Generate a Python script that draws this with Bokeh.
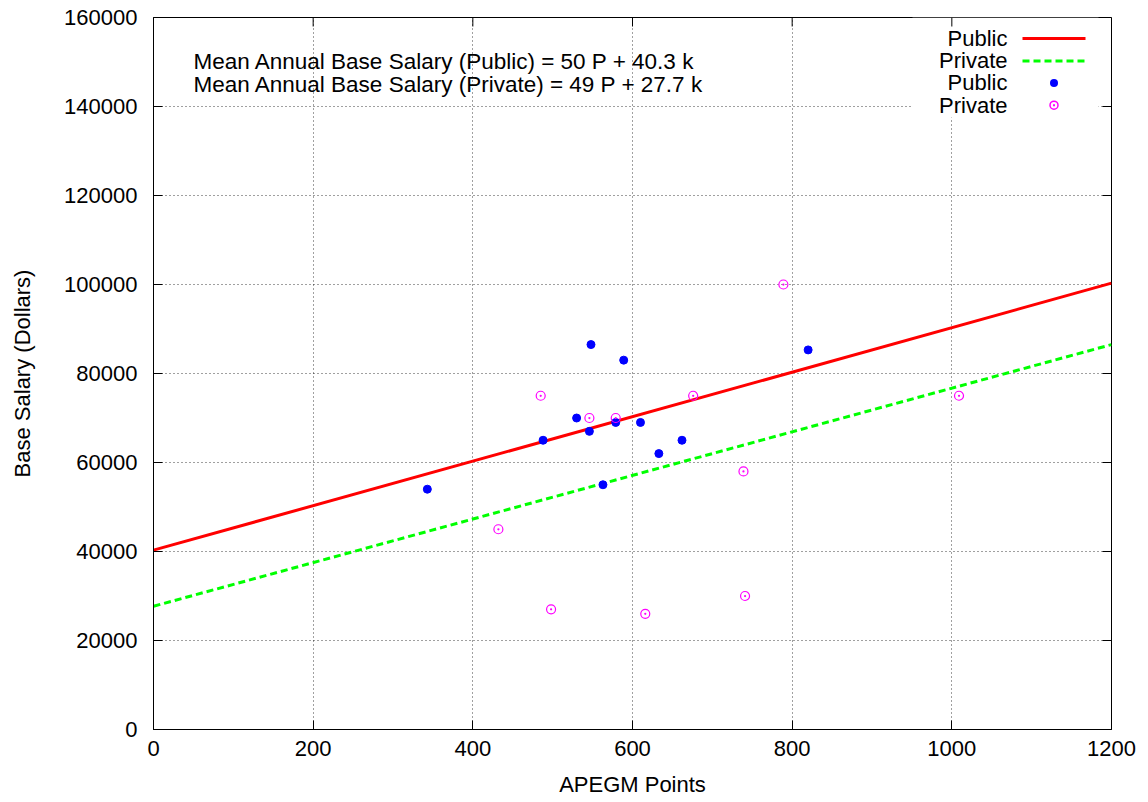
import math
from bokeh.plotting import figure
from bokeh.models import (Range1d, FixedTicker, BasicTickFormatter,
                          Label, BoxAnnotation, Arrow)
from bokeh.embed import file_html
from bokeh.resources import INLINE

# ---- data ----
pub_x = [343, 488, 530, 546, 548, 563, 579, 589, 610, 633, 662, 820]
pub_y = [54000, 65000, 70000, 67000, 86500, 55000, 69000, 83000, 69000, 62000, 65000, 85300]

priv_x = [432, 485, 498, 546, 579, 616, 676, 739, 741, 789, 1009]
priv_y = [45000, 75000, 27000, 70000, 70000, 26000, 75000, 58000, 30000, 100000, 75000]

fit_names = ["Public", "Private"]
fit_slope = [50, 49]
fit_intercept = [40300, 27700]
fit_x = [0, 1200]

x_ticks = [0, 200, 400, 600, 800, 1000, 1200]
y_ticks = [0, 20000, 40000, 60000, 80000, 100000, 120000, 140000, 160000]

eq_labels = ["Mean Annual Base Salary (Public) = 50 P + 40.3 k",
             "Mean Annual Base Salary (Private) = 49 P + 27.7 k"]
legend_labels = ["Public", "Private", "Public", "Private"]

x_title = "APEGM Points"
y_title = "Base Salary (Dollars)"

FONT = "Liberation Sans"
FS = "22px"

X0, X1 = 0, 1200
Y0, Y1 = 0, 160000

p = figure(width=1148, height=802,
           x_range=Range1d(X0, X1), y_range=Range1d(Y0, Y1),
           output_backend="svg", toolbar_location=None,
           min_border_left=153, min_border_right=37,
           min_border_top=17, min_border_bottom=73,
           background_fill_color="white", border_fill_color="white")

p.outline_line_color = "black"
p.outline_line_width = 1

xt = FixedTicker(ticks=x_ticks, minor_ticks=[])
yt = FixedTicker(ticks=y_ticks, minor_ticks=[])

for ax, tk in ((p.xaxis[0], xt), (p.yaxis[0], yt)):
    ax.ticker = tk
    ax.formatter = BasicTickFormatter(use_scientific=False)
    ax.major_tick_in = 9
    ax.major_tick_out = 0
    ax.minor_tick_in = 0
    ax.minor_tick_out = 0
    ax.axis_line_color = "black"
    ax.major_tick_line_color = "black"
    ax.major_label_text_font = FONT
    ax.major_label_text_font_size = FS
    ax.major_label_text_color = "black"
    ax.axis_label_text_font = FONT
    ax.axis_label_text_font_size = FS
    ax.axis_label_text_font_style = "normal"
    ax.axis_label_text_color = "black"

p.xaxis[0].axis_label = x_title
p.yaxis[0].axis_label = y_title
p.xaxis[0].major_label_standoff = 11
p.xaxis[0].axis_label_standoff = 13
p.yaxis[0].major_label_standoff = 16
p.yaxis[0].axis_label_standoff = 26

for g, tk in ((p.xgrid[0], xt), (p.ygrid[0], yt)):
    g.ticker = tk
    g.grid_line_color = "black"
    g.grid_line_alpha = 0.75
    g.grid_line_dash = "1 3"
    g.grid_line_width = 1

# legend background box (covers grid)
p.add_layout(BoxAnnotation(left=759, right=945, top=712, bottom=612,
                           left_units="screen", right_units="screen",
                           top_units="screen", bottom_units="screen",
                           fill_color="white", fill_alpha=1, line_color=None,
                           level="underlay"))

# mirrored tick marks on top and right borders
p.ray(x=x_ticks, y=[Y1] * len(x_ticks), length=9, length_units="screen",
      angle=-math.pi / 2, line_color="black", line_width=1)
p.ray(x=[X1] * len(y_ticks), y=y_ticks, length=9, length_units="screen",
      angle=math.pi, line_color="black", line_width=1)

# fitted lines
colors = ["#ff0000", "#00ff00"]
dashes = ["solid", "7 4"]
for name, m, b, c, d in zip(fit_names, fit_slope, fit_intercept, colors, dashes):
    ys = [m * x + b for x in fit_x]
    p.line(fit_x, ys, line_color=c, line_width=3, line_dash=d)

# scatter points
p.scatter(pub_x, pub_y, marker="circle", size=8, fill_color="#0000ff",
          line_color="#0000ff")
p.scatter(priv_x, priv_y, marker="circle_dot", size=9, fill_color=None,
          line_color="#ff00ff", line_width=1.2)

# equations
eq_y = [668, 645]
for t, yy in zip(eq_labels, eq_y):
    p.add_layout(Label(x=40, y=yy, x_units="screen", y_units="screen", text=t,
                       text_font=FONT, text_font_size="22.5px", text_color="black",
                       text_baseline="middle", text_align="left"))

# legend (gnuplot style: label then sample)
leg_y = [691, 668.6, 646.6, 624.3]
for t, yy in zip(legend_labels, leg_y):
    p.add_layout(Label(x=854, y=yy, x_units="screen", y_units="screen", text=t,
                       text_font=FONT, text_font_size=FS, text_color="black",
                       text_baseline="middle", text_align="right"))

for yy, c, d in zip(leg_y[:2], colors, dashes):
    p.add_layout(Arrow(start=None, end=None, x_start=869, y_start=yy,
                       x_end=932, y_end=yy, start_units="screen", end_units="screen",
                       line_color=c, line_width=3, line_dash=d))

# legend markers
cx = 900.5
p.add_layout(BoxAnnotation(left=cx - 4, right=cx + 4, bottom=leg_y[2] - 4, top=leg_y[2] + 4,
                           left_units="screen", right_units="screen",
                           top_units="screen", bottom_units="screen",
                           fill_color="#0000ff", fill_alpha=1, line_color=None,
                           border_radius=4))
p.add_layout(BoxAnnotation(left=cx - 4, right=cx + 4, bottom=leg_y[3] - 4, top=leg_y[3] + 4,
                           left_units="screen", right_units="screen",
                           top_units="screen", bottom_units="screen",
                           fill_color=None, fill_alpha=0, line_color="#ff00ff", line_width=1.5,
                           line_alpha=1, border_radius=4))
p.add_layout(BoxAnnotation(left=cx - 1, right=cx + 1, bottom=leg_y[3] - 1, top=leg_y[3] + 1,
                           left_units="screen", right_units="screen",
                           top_units="screen", bottom_units="screen",
                           fill_color="#ff00ff", fill_alpha=1, line_color=None))

open("out.html", "w").write(file_html(p, INLINE))
